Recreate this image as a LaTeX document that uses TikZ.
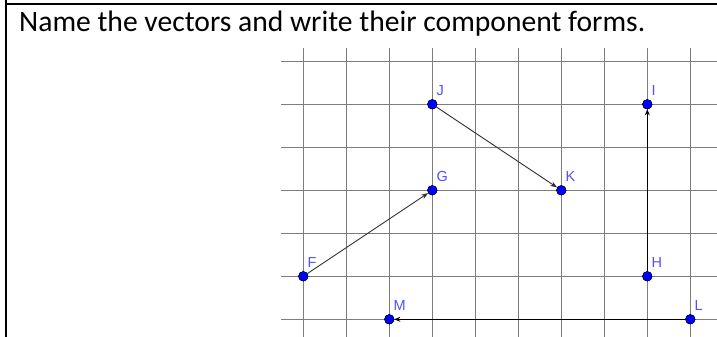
\documentclass[tikz,border=0pt]{standalone}
\usepackage{fontspec}
\setmainfont{Carlito}
\newfontfamily\lblfont{Liberation Sans}
\usetikzlibrary{arrows.meta}
\definecolor{gridgray}{RGB}{125,125,125}
\definecolor{lblblue}{RGB}{80,80,255}
\definecolor{vecgray}{RGB}{50,50,50}
\begin{document}
\begin{tikzpicture}[x=1pt,y=-1pt,
  gridline/.style={draw=gridgray,line width=1.5pt},
  border/.style={draw=black,line width=2pt},
  dot/.style={circle,fill=blue,draw=black,line width=0.4pt,minimum size=9.6pt,inner sep=0pt},
  lbl/.style={font=\lblfont\fontsize{14.5}{16}\selectfont,text=lblblue,anchor=base west,inner sep=0pt},
  thinvec/.style={draw=vecgray,line width=0.9pt,-{Stealth[length=7pt,width=5pt]}},
  thickvec/.style={draw=black,line width=1.6pt,-{Stealth[length=6pt,width=5pt]}},
  title/.style={font=\fontsize{29.6}{34}\selectfont,anchor=base west,inner sep=0pt}]
\useasboundingbox (0,0) rectangle (717,337);
% grid
\foreach \k in {0,...,9} {\draw[gridline] (303.3+43*\k,48) -- (303.3+43*\k,337);}
\foreach \k in {0,...,6} {\draw[gridline] (281,61.3+43*\k) -- (717,61.3+43*\k);}
% border
\draw[border] (6.3,0) -- (6.3,337);
\draw[border] (5.3,4.5) -- (717,4.5);
% title
\node[title] (title) at (19,31.5) {Name the vectors and write their component forms.};
% points
\node[dot] (F) at (303.3,276.3) {};
\node[dot] (G) at (432.3,190.3) {};
\node[dot] (J) at (432.3,104.3) {};
\node[dot] (K) at (561.3,190.3) {};
\node[dot] (I) at (647.3,104.3) {};
\node[dot] (H) at (647.3,276.3) {};
\node[dot] (M) at (389.3,319.3) {};
\node[dot] (L) at (690.3,319.3) {};
% vectors
\draw[thinvec] (F) -- (G);
\draw[thinvec] (J) -- (K);
\draw[thickvec] (H) -- (I);
\draw[thickvec] (L) -- (M);
\node[dot] at (F) {};
\node[dot] at (G) {};
\node[dot] at (J) {};
\node[dot] at (K) {};
\node[dot] at (I) {};
\node[dot] at (H) {};
\node[dot] at (M) {};
\node[dot] at (L) {};
% labels
\node[lbl] (tF) at (307.3,267.3) {F};
\node[lbl] (tG) at (436.3,181.3) {G};
\node[lbl] (tJ) at (436.3,95.3) {J};
\node[lbl] (tK) at (565.3,181.3) {K};
\node[lbl] (tI) at (651.3,95.3) {I};
\node[lbl] (tH) at (651.3,267.3) {H};
\node[lbl] (tM) at (393.3,310.3) {M};
\node[lbl] (tL) at (694.3,310.3) {L};
\end{tikzpicture}
\end{document}
